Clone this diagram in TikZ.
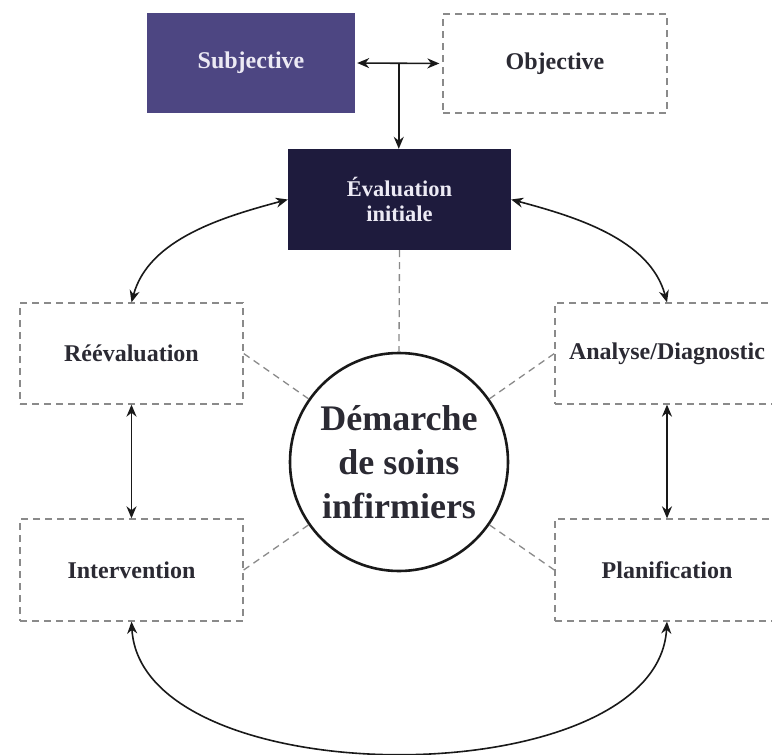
\documentclass[tikz,border=0pt]{standalone}
\usepackage{fontspec}
\setmainfont{Liberation Serif}
\usetikzlibrary{arrows.meta,calc}
\definecolor{subjfill}{HTML}{4D4682}
\definecolor{evalfill}{HTML}{1E1B3D}
\definecolor{labeltxt}{HTML}{2B2A33}
\definecolor{dashgray}{HTML}{8A8A8A}
\definecolor{whitetxt}{HTML}{ECEAF4}
\begin{document}
\begin{tikzpicture}[x=1pt,y=1pt,
  lbl/.style={font=\fontsize{24}{27}\selectfont\bfseries, align=center, inner sep=0pt},
  dashbox/.style={lbl, draw=dashgray, line width=1.3pt, dash pattern=on 7pt off 5pt, text=labeltxt},
  solidbox/.style={lbl, text=whitetxt},
  dashlink/.style={draw=dashgray, line width=1.3pt, dash pattern=on 7pt off 5pt},
  arr/.style={draw=black!90, line width=1.6pt, {Stealth[length=12pt,width=10pt]}-{Stealth[length=12pt,width=10pt]}},
  arrone/.style={draw=black!90, line width=1.6pt, -{Stealth[length=12pt,width=10pt]}}
]
\useasboundingbox (0,0) rectangle (772,-755);
\clip (0,0) rectangle (772,-755);
\fill[white] (0,0) rectangle (772,-755);

\node[solidbox, fill=subjfill, minimum width=208pt, minimum height=100pt] (subj) at (251,-63) {Subjective};
\node[dashbox, minimum width=224pt, minimum height=99pt] (obj) at (555,-63.5) {Objective};
\node[solidbox, fill=evalfill, minimum width=223pt, minimum height=101pt, font=\fontsize{22.5}{25}\selectfont\bfseries] (eval) at (399.5,-199.5) {Évaluation\\initiale};
\node[dashbox, minimum width=223pt, minimum height=101pt] (reeval) at (131.5,-353.5) {Réévaluation};
\node[dashbox, minimum width=223pt, minimum height=102pt] (interv) at (131.5,-570) {Intervention};
\node[dashbox, minimum width=224pt, minimum height=101pt] (analyse) at (667,-353.5) {Analyse/Diagnostic};
\node[dashbox, minimum width=224pt, minimum height=102pt] (plan) at (667,-570) {Planification};
\node[circle, draw=black!90, line width=2.6pt, minimum size=218pt, inner sep=0pt, align=center, text=labeltxt,
      font=\fontsize{36}{44}\selectfont\bfseries] (circ) at (399,-462) {Démarche\\de soins\\infirmiers};

% top connectors
\draw[arr, shorten <=2pt, shorten >=3pt] (subj.east) -- (obj.west);
\coordinate (jn) at ($(subj.east)!0.5!(obj.west)$);
\draw[arrone] (jn) -- (eval.north -| jn);

% dashed links to the centre
\draw[dashlink] (eval.south) -- (circ.north);
\draw[dashlink] (circ) -- (reeval.east);
\draw[dashlink] (circ) -- (interv.east);
\draw[dashlink] (circ) -- (analyse.west);
\draw[dashlink] (circ) -- (plan.west);

% cycle arrows
\draw[arr] (eval.west) to[out=195, in=75, looseness=0.9] (reeval.north);
\draw[arr] (eval.east) to[out=-15, in=105, looseness=0.9] (analyse.north);
\draw[arr] (reeval.south) -- (interv.north);
\draw[arr] (analyse.south) -- (plan.north);
\draw[arr] (interv.south) .. controls +(10,-175) and +(-10,-175) .. (plan.south);
\end{tikzpicture}
\end{document}
